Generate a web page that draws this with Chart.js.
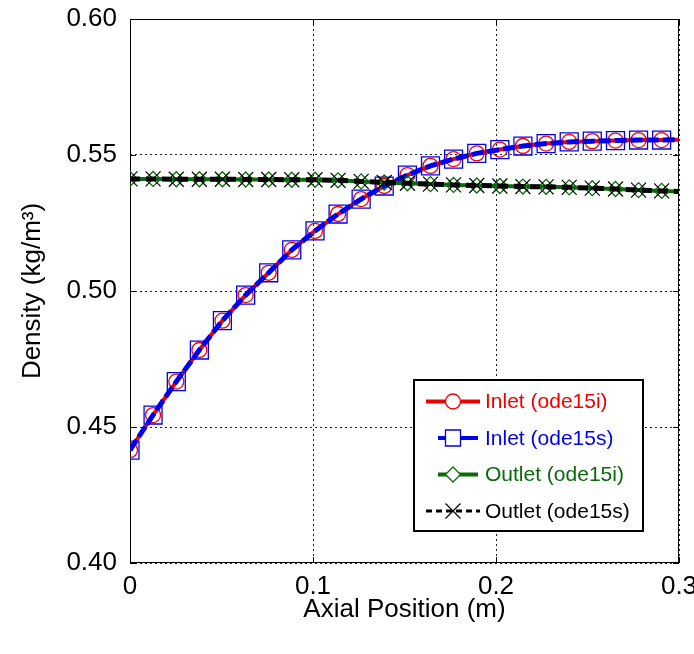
<!DOCTYPE html>
<html>
<head>
<meta charset="utf-8">
<script src="https://cdn.jsdelivr.net/npm/chart.js@4/dist/chart.umd.min.js"></script>
<style>
html, body { margin: 0; padding: 0; background: #fff; }
canvas { display: block; }
</style>
</head>
<body>
<canvas id="canvas" width="694" height="654"></canvas>
<script>
// axial positions of the markers (m), last entry is where the lines end
var axialPos = [0, 0.0126, 0.0253, 0.0379, 0.0505, 0.0632, 0.0758, 0.0884, 0.1011, 0.1137,
	0.1263, 0.1389, 0.1516, 0.1642, 0.1768, 0.1895, 0.2021, 0.2147, 0.2274, 0.2400,
	0.2526, 0.2653, 0.2779, 0.2905, 0.3];
var markerCount = 24;

var inletOde15i = [0.4415, 0.4544, 0.4667, 0.4783, 0.4891, 0.4985, 0.5067, 0.5151, 0.5221, 0.5283,
	0.5338, 0.5386, 0.5426, 0.5460, 0.5485, 0.5506, 0.5520, 0.5533, 0.5542, 0.5548,
	0.5551, 0.5553, 0.5555, 0.5555, 0.5556];
var inletOde15s = [0.4415, 0.4544, 0.4667, 0.4783, 0.4891, 0.4985, 0.5067, 0.5151, 0.5221, 0.5283,
	0.5338, 0.5386, 0.5426, 0.5460, 0.5485, 0.5506, 0.5520, 0.5533, 0.5542, 0.5548,
	0.5551, 0.5553, 0.5555, 0.5555, 0.5556];
var outletOde15i = [0.5412, 0.5412, 0.5411, 0.5411, 0.5411, 0.5410, 0.5410, 0.5409, 0.5409, 0.5407,
	0.5403, 0.5399, 0.5396, 0.5393, 0.5390, 0.5388, 0.5386, 0.5384, 0.5383, 0.5381,
	0.5378, 0.5375, 0.5371, 0.5368, 0.5366];
var outletOde15s = [0.5412, 0.5412, 0.5411, 0.5411, 0.5411, 0.5410, 0.5410, 0.5409, 0.5409, 0.5407,
	0.5403, 0.5399, 0.5396, 0.5393, 0.5390, 0.5388, 0.5386, 0.5384, 0.5383, 0.5381,
	0.5378, 0.5375, 0.5371, 0.5368, 0.5366];

var seriesLabels = ['Inlet (ode15i)', 'Inlet (ode15s)', 'Outlet (ode15i)', 'Outlet (ode15s)'];
var xTickLabels = ['0', '0.1', '0.2', '0.3'];
var yTickLabels = ['0.40', '0.45', '0.50', '0.55', '0.60'];

var RED = '#f00000', BLUE = '#0000f0', GREEN = '#0a6a0a', BLACK = '#000000';
var FONT = "'Liberation Sans', Arial, sans-serif";

function toPoints(xs, ys){
	var pts = [];
	for(var i = 0; i < xs.length; i++){
		pts.push({x: xs[i], y: ys[i]});
	}
	return pts;
}

function markerRadius(r){
	return function(ctx){ return ctx.dataIndex < markerCount ? r : 0; };
}

// legend styles, same order as seriesLabels
var legendStyles = [
	{color: RED, width: 4, dash: [], marker: 'circle', x0: 0, x1: 54},
	{color: BLUE, width: 4, dash: [], marker: 'square', x0: 12, x1: 52},
	{color: GREEN, width: 4, dash: [], marker: 'diamond', x0: 12, x1: 52},
	{color: BLACK, width: 3, dash: [6, 4], marker: 'cross', x0: 0, x1: 54}
];

function drawMarker(ctx, kind, x, y, color){
	ctx.save();
	ctx.strokeStyle = color;
	ctx.lineWidth = 1.3;
	ctx.setLineDash([]);
	ctx.beginPath();
	if (kind == 'circle'){
		ctx.fillStyle = '#fff';
		ctx.arc(x, y, 7.5, 0, Math.PI * 2);
		ctx.fill();
	}else if (kind == 'square'){
		ctx.fillStyle = '#fff';
		ctx.rect(x - 7.5, y - 8, 15, 16);
		ctx.fill();
	}else if (kind == 'diamond'){
		ctx.fillStyle = '#fff';
		ctx.moveTo(x, y - 7.5); ctx.lineTo(x + 7.5, y); ctx.lineTo(x, y + 7.5); ctx.lineTo(x - 7.5, y); ctx.closePath();
		ctx.fill();
	}else{
		ctx.moveTo(x - 7.5, y - 7.5); ctx.lineTo(x + 7.5, y + 7.5);
		ctx.moveTo(x + 7.5, y - 7.5); ctx.lineTo(x - 7.5, y + 7.5);
	}
	ctx.stroke();
	ctx.restore();
}

var framePlugin = {
	id: 'frame',
	beforeDatasetsDraw: function(chart){
		var ctx = chart.ctx, a = chart.chartArea;
		var xs = chart.scales.x, ys = chart.scales.y;
		ctx.save();
		ctx.strokeStyle = '#000';
		ctx.lineWidth = 1;
		ctx.strokeRect(a.left + 0.5, a.top + 0.5, a.right - a.left - 1, a.bottom - a.top - 1);
		ctx.beginPath();
		xs.ticks.forEach(function(t){
			var px = Math.round(xs.getPixelForValue(t.value)) + 0.5;
			ctx.moveTo(px, a.bottom); ctx.lineTo(px, a.bottom - 6);
			ctx.moveTo(px, a.top); ctx.lineTo(px, a.top + 6);
		});
		ys.ticks.forEach(function(t){
			var py = Math.round(ys.getPixelForValue(t.value)) + 0.5;
			ctx.moveTo(a.left, py); ctx.lineTo(a.left + 6, py);
			ctx.moveTo(a.right, py); ctx.lineTo(a.right - 6, py);
		});
		ctx.stroke();
		ctx.restore();
	},
	afterDatasetsDraw: function(chart){
		var ctx = chart.ctx, a = chart.chartArea;
		var boxRight = a.right - 36, boxBottom = a.bottom - 32;
		var boxLeft = boxRight - 229, boxTop = boxBottom - 151;
		ctx.save();
		ctx.fillStyle = '#fff';
		ctx.fillRect(boxLeft, boxTop, boxRight - boxLeft, boxBottom - boxTop);
		ctx.strokeStyle = '#000';
		ctx.lineWidth = 2;
		ctx.strokeRect(boxLeft, boxTop, boxRight - boxLeft, boxBottom - boxTop);
		ctx.font = '21px ' + FONT;
		ctx.textBaseline = 'middle';
		for(var i = 0; i < seriesLabels.length; i++){
			var st = legendStyles[i];
			var y = boxTop + 21.5 + i * 36.5;
			var lx = boxLeft + 12;
			ctx.strokeStyle = st.color;
			ctx.lineWidth = st.width;
			ctx.setLineDash(st.dash);
			ctx.beginPath();
			ctx.moveTo(lx + st.x0, y);
			ctx.lineTo(lx + st.x1, y);
			ctx.stroke();
			drawMarker(ctx, st.marker, lx + 27, y, st.color);
			ctx.fillStyle = st.color;
			ctx.fillText(seriesLabels[i], lx + 59, y + 1);
		}
		ctx.restore();
	}
};

var config = {
	type: 'line',
	data: {
		datasets: [
			{
				label: seriesLabels[0],
				data: toPoints(axialPos, inletOde15i),
				borderColor: RED, borderWidth: 4,
				pointStyle: 'circle', pointRadius: markerRadius(7.5),
				pointBorderColor: RED, pointBackgroundColor: 'rgba(0,0,0,0)', pointBorderWidth: 1.3,
				order: 4
			},
			{
				label: seriesLabels[1],
				data: toPoints(axialPos, inletOde15s),
				borderColor: BLUE, borderWidth: 5, borderDash: [12, 4],
				pointStyle: 'rect', pointRadius: markerRadius(12.7),
				pointBorderColor: BLUE, pointBackgroundColor: 'rgba(0,0,0,0)', pointBorderWidth: 1.3,
				order: 3
			},
			{
				label: seriesLabels[2],
				data: toPoints(axialPos, outletOde15i),
				borderColor: GREEN, borderWidth: 4,
				pointStyle: 'rectRot', pointRadius: markerRadius(7.5),
				pointBorderColor: GREEN, pointBackgroundColor: 'rgba(0,0,0,0)', pointBorderWidth: 1.3,
				order: 2
			},
			{
				label: seriesLabels[3],
				data: toPoints(axialPos, outletOde15s),
				borderColor: BLACK, borderWidth: 5, borderDash: [10, 6],
				pointStyle: 'crossRot', pointRadius: markerRadius(10.6),
				pointBorderColor: BLACK, pointBorderWidth: 1.2,
				order: 1
			}
		]
	},
	options: {
		responsive: false,
		animation: false,
		devicePixelRatio: 1,
		layout: {padding: {left: 0, right: 15, top: 19, bottom: 0}},
		plugins: {legend: {display: false}, tooltip: {enabled: false}},
		elements: {line: {tension: 0, fill: false}},
		scales: {
			x: {
				type: 'linear', min: 0, max: 0.3,
				border: {display: false, dash: [2, 3]},
				grid: {color: '#222', lineWidth: 1, drawTicks: false},
				ticks: {
					stepSize: 0.1, padding: 8, color: '#000', maxRotation: 0,
					font: {family: FONT, size: 26},
					callback: function(v, i){ return xTickLabels[i]; }
				},
				title: {display: true, text: 'Axial Position (m)', color: '#000',
					font: {family: FONT, size: 26, lineHeight: 1}, padding: {top: 0, bottom: 31}},
				afterFit: function(s){ s.height = 91; s.paddingLeft = 0; s.paddingRight = 0; }
			},
			y: {
				type: 'linear', min: 0.4, max: 0.6,
				border: {display: false, dash: [2, 3]},
				grid: {color: '#222', lineWidth: 1, drawTicks: false},
				ticks: {
					stepSize: 0.05, padding: 13, color: '#000',
					font: {family: FONT, size: 26},
					callback: function(v, i){ return yTickLabels[i]; }
				},
				title: {display: true, text: 'Density (kg/m\u00B3)', color: '#000',
					font: {family: FONT, size: 26, lineHeight: 1}, padding: {top: 20, bottom: 0}},
				afterFit: function(s){ s.width = 130; s.paddingTop = 0; s.paddingBottom = 0; }
			}
		}
	},
	plugins: [framePlugin]
};

var ctx = document.getElementById('canvas').getContext('2d');
window.myLine = new Chart(ctx, config);
</script>
</body>
</html>
